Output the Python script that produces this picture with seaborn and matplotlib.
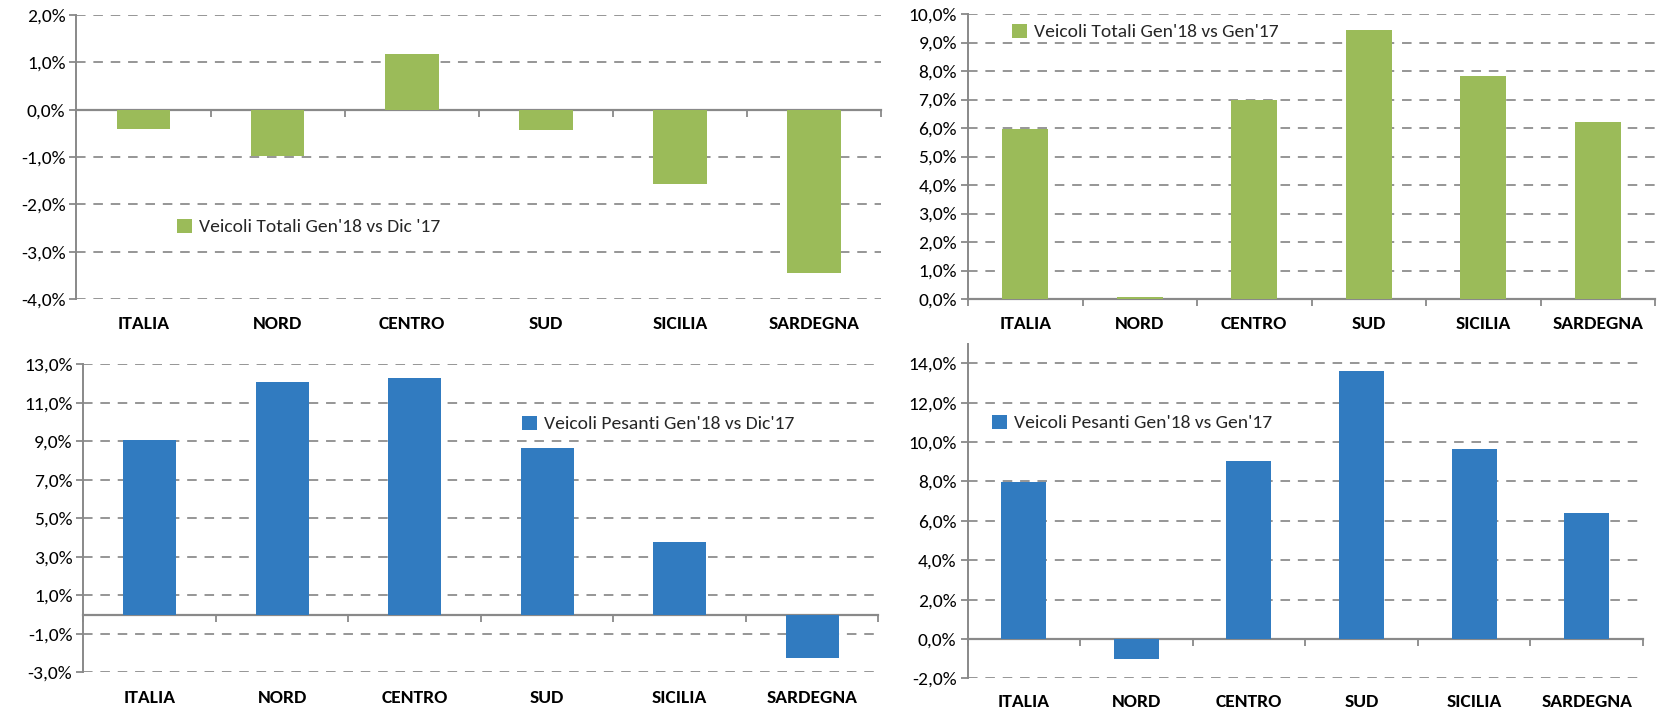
import numpy as np
import pandas as pd
import matplotlib
matplotlib.use("Agg")
import matplotlib.pyplot as plt
from matplotlib.ticker import FuncFormatter, FixedLocator
import seaborn as sns

categories = ["ITALIA", "NORD", "CENTRO", "SUD", "SICILIA", "SARDEGNA"]

tot_gen18_vs_dic17 = [-0.41, -0.97, 1.17, -0.42, -1.58, -3.46]
tot_gen18_vs_gen17 = [5.96, 0.06, 6.98, 9.43, 7.82, 6.21]
pes_gen18_vs_dic17 = [9.07, 12.10, 12.31, 8.65, 3.75, -2.24]
pes_gen18_vs_gen17 = [7.97, -1.02, 9.06, 13.62, 9.64, 6.38]

labels = ["Veicoli Totali Gen'18 vs Dic '17",
          "Veicoli Totali Gen'18 vs Gen'17",
          "Veicoli Pesanti Gen'18 vs Dic'17",
          "Veicoli Pesanti Gen'18 vs Gen'17"]

GREEN = "#9BBB59"
BLUE = "#317BC0"
GRAY = "#898989"

sns.set_theme(style="white")
plt.rcParams['font.family'] = ['Carlito', 'Liberation Sans Narrow', 'Open Sans', 'DejaVu Sans']

fig = plt.figure(figsize=(16.63, 7.13), dpi=100)

panels = [
    # values, color, label, axes rect, ylim, major step, legend anchor, xlabel pad
    (tot_gen18_vs_dic17, GREEN, labels[0], [0.0460, 0.5806, 0.4838, 0.3983], (-4, 2), 1, (0.1064, 0.6816), 12),
    (tot_gen18_vs_gen17, GREEN, labels[1], [0.5821, 0.5806, 0.4131, 0.3997], (0, 10), 1, (0.6085, 0.9551), 12),
    (pes_gen18_vs_dic17, BLUE, labels[2], [0.0502, 0.0571, 0.4780, 0.4317], (-3, 13), 2, (0.3139, 0.4053), 13),
    (pes_gen18_vs_gen17, BLUE, labels[3], [0.5818, 0.0484, 0.4061, 0.4698], (-2, 15), 2, (0.5965, 0.4067), 11),
]

fmt = FuncFormatter(lambda v, _: f"{v:.1f}%".replace('.', ','))

for vals, color, lab, rect, ylim, step, anchor, xpad in panels:
    ax = fig.add_axes(rect)
    df = pd.DataFrame({"regione": categories, "valore": vals})
    sns.barplot(data=df, x="regione", y="valore", color=color, width=0.4,
                ax=ax, label=lab, saturation=1, edgecolor="none", linewidth=0)
    ax.set_xlim(-0.5, len(categories) - 0.5)
    ax.set_ylim(*ylim)
    ax.yaxis.set_major_locator(FixedLocator(np.arange(ylim[0], ylim[1] + 1e-9, step)))
    ax.yaxis.set_major_formatter(fmt)
    ax.set_xlabel("")
    ax.set_ylabel("")
    ax.set_axisbelow(True)
    ax.yaxis.grid(True, linestyle=(0, (5.5, 4.5)), color=GRAY, linewidth=1.25)
    ax.xaxis.grid(False)
    for s in ["top", "right", "bottom"]:
        ax.spines[s].set_visible(False)
    ax.spines["left"].set_color(GRAY)
    ax.spines["left"].set_linewidth(1.4)
    ax.tick_params(axis="y", direction="out", length=5, width=1.3, color=GRAY,
                   labelsize=14, pad=3, left=True, labelcolor="black")
    ax.tick_params(axis="x", length=0, labelsize=14, pad=xpad, labelcolor="black")
    for t in ax.get_xticklabels():
        t.set_fontweight("bold")
    # zero line with category-boundary ticks
    sec = ax.secondary_xaxis(0, transform=ax.transData)
    sec.set_xticks(np.arange(len(categories) + 1) - 0.5)
    sec.set_xticklabels([])
    sec.tick_params(axis="x", direction="out", length=5, width=1.3, color=GRAY)
    sec.spines["bottom"].set_color(GRAY)
    sec.spines["bottom"].set_linewidth(1.6)
    ax.legend(loc="center left", bbox_to_anchor=anchor, bbox_transform=fig.transFigure,
              frameon=False, fontsize=14, handlelength=0.75, handleheight=0.75,
              handletextpad=0.4, borderpad=0, borderaxespad=0)

fig.savefig("out.png", dpi=100)
